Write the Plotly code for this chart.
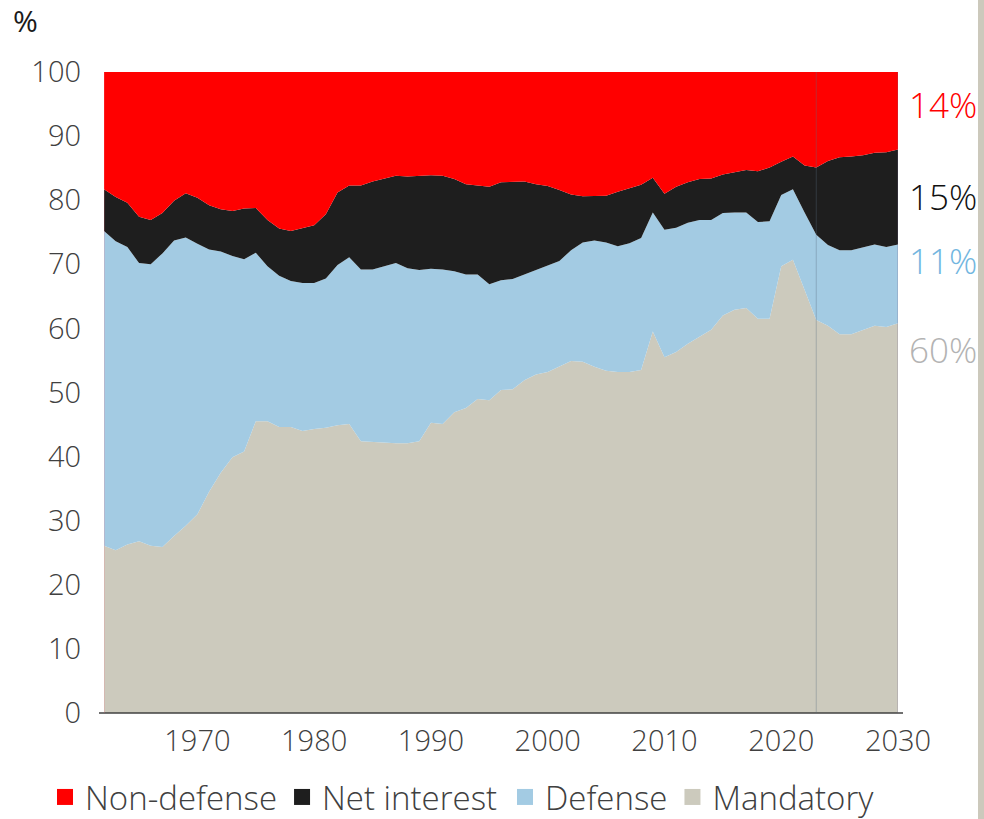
import plotly.graph_objects as go

years = list(range(1962, 2031))

mandatory = [26.1, 25.4, 26.3, 26.8, 26.1, 25.9, 27.6, 29.2, 31.0, 34.5,
             37.5, 39.9, 40.8, 45.5, 45.5, 44.6, 44.6, 44.0, 44.3, 44.5,
             44.9, 45.1, 42.4, 42.3, 42.1, 42.1, 42.1, 42.4, 45.3, 45.1,
             46.9, 47.6, 49.0, 48.8, 50.4, 50.5, 51.9, 52.8, 53.2, 54.0,
             54.9, 54.8, 54.0, 53.4, 53.2, 53.2, 53.5, 59.5, 55.5, 56.3,
             57.6, 58.7, 59.8, 62.0, 62.9, 63.2, 61.5, 61.5, 69.7, 70.7,
             66.0, 61.3, 60.4, 59.1, 59.1, 59.8, 60.4, 60.2, 60.8]

defense = [49.1, 48.2, 46.4, 43.4, 43.9, 45.8, 46.1, 45.0, 42.2, 37.8,
           34.5, 31.4, 30.0, 26.3, 24.2, 23.6, 22.8, 23.1, 22.8, 23.3,
           25.0, 26.0, 26.8, 26.9, 27.6, 28.1, 27.3, 26.7, 24.0, 24.1,
           22.0, 20.8, 19.4, 18.1, 17.1, 17.2, 16.5, 16.3, 16.5, 16.5,
           17.3, 18.6, 19.7, 20.0, 19.6, 20.1, 20.6, 18.6, 19.9, 19.4,
           18.9, 18.2, 17.1, 16.0, 15.2, 14.9, 15.1, 15.2, 11.1, 11.0,
           12.1, 13.3, 12.6, 13.1, 13.1, 12.8, 12.7, 12.5, 12.3]

net_interest = [6.5, 6.9, 6.9, 7.2, 6.9, 6.3, 6.2, 6.9, 7.2, 6.9,
                6.6, 7.0, 7.9, 7.0, 7.2, 7.4, 7.8, 8.5, 9.0, 10.0,
                11.3, 11.2, 13.1, 13.7, 13.7, 13.6, 14.3, 14.7, 14.6, 14.6,
                14.4, 14.1, 13.9, 15.2, 15.3, 15.1, 14.5, 13.4, 12.5, 11.1,
                8.7, 7.2, 7.0, 7.3, 8.5, 8.5, 8.3, 5.4, 5.6, 6.4,
                6.3, 6.4, 6.5, 6.0, 6.3, 6.6, 7.9, 8.4, 5.2, 5.1,
                7.3, 10.5, 13.1, 14.5, 14.6, 14.4, 14.3, 14.8, 14.8]

non_defense = [18.3, 19.5, 20.4, 22.6, 23.1, 22.0, 20.1, 18.9, 19.6, 20.8,
               21.4, 21.7, 21.3, 21.2, 23.1, 24.4, 24.8, 24.4, 23.9, 22.2,
               18.8, 17.7, 17.7, 17.1, 16.6, 16.2, 16.3, 16.2, 16.1, 16.2,
               16.7, 17.5, 17.7, 17.9, 17.2, 17.2, 17.1, 17.5, 17.8, 18.4,
               19.1, 19.4, 19.3, 19.3, 18.7, 18.2, 17.6, 16.5, 19.0, 17.9,
               17.2, 16.7, 16.6, 16.0, 15.6, 15.3, 15.5, 14.9, 14.0, 13.2,
               14.6, 14.9, 13.9, 13.3, 13.2, 13.0, 12.6, 12.5, 12.1]

tick_years = [1970, 1980, 1990, 2000, 2010, 2020, 2030]
y_ticks = list(range(0, 101, 10))
end_labels = ["14%", "15%", "11%", "60%"]
projection_start = 2023

series = [
    ("Mandatory", mandatory, "#CCCABD"),
    ("Defense", defense, "#A3CBE3"),
    ("Net interest", net_interest, "#1E1E1E"),
    ("Non-defense", non_defense, "#FF0000"),
]

FONT = "Open Sans"
TXT = "#404040"

fig = go.Figure()
for name, vals, col in series:
    fig.add_trace(go.Scatter(
        x=years, y=vals, name=name, stackgroup="one", mode="lines",
        line=dict(width=0, color=col), fillcolor=col, showlegend=False,
        hoverinfo="x+y+name"))

# legend entries (square swatches), split across two side-by-side legends
legend_of = {"Non-defense": "legend", "Net interest": "legend",
             "Defense": "legend2", "Mandatory": "legend2"}
for name, vals, col in reversed(series):
    fig.add_trace(go.Scatter(
        x=[None], y=[None], name=name, mode="markers", legend=legend_of[name],
        marker=dict(symbol="square", size=16, color=col), showlegend=True))

W, H = 984, 819
L, R, T, B = 104, 898, 72, 713
pw, ph = R - L, B - T


def px(xp):
    return (xp - L) / pw


def py(yp):
    return (B - yp) / ph


shapes = [
    # bottom axis line
    dict(type="line", xref="paper", yref="paper", x0=px(99), x1=px(903), y0=0, y1=0,
         line=dict(color="#404040", width=1.5)),
    # projection divider
    dict(type="line", xref="x", yref="paper", x0=projection_start, x1=projection_start,
         y0=0, y1=1, line=dict(color="rgba(90,110,130,0.35)", width=1)),
    # right edge
    dict(type="line", xref="x", yref="paper", x0=2030, x1=2030, y0=0, y1=1,
         line=dict(color="rgba(110,100,140,0.45)", width=1)),
    # left edge
    dict(type="line", xref="x", yref="paper", x0=1962, x1=1962, y0=0, y1=1,
         line=dict(color="rgba(240,120,140,0.45)", width=1)),
    # page strip at right
    dict(type="rect", xref="paper", yref="paper", x0=px(978), x1=px(990),
         y0=py(830), y1=py(-10), fillcolor="#CCC9BC", line=dict(width=0), layer="below"),
]

label_cols = ["#FF0000", "#111111", "#72B6E0", "#B3B3B3"]
label_y = [104, 196, 260.5, 349.5]
annotations = [
    dict(text="%", xref="paper", yref="paper", x=px(11), y=py(21), xanchor="left",
         yanchor="middle", showarrow=False,
         font=dict(family=FONT, size=30, color="#1A1A1A", weight=400)),
]
for t, c, yy in zip(end_labels, label_cols, label_y):
    annotations.append(dict(text=t, xref="paper", yref="paper", x=px(907), y=py(yy),
                            xanchor="left", yanchor="middle", showarrow=False,
                            font=dict(family=FONT, size=35, color=c, weight=300)))

legend_common = dict(orientation="h", xanchor="left", yref="container",
                     y=(H - 797) / H, yanchor="middle", xref="container",
                     font=dict(family=FONT, size=33, color=TXT, weight=300), itemwidth=30,
                     traceorder="normal", bgcolor="rgba(0,0,0,0)")

fig.update_layout(
    width=W, height=H,
    margin=dict(l=L, r=W - R, t=T, b=H - B, pad=0, autoexpand=False),
    paper_bgcolor="white", plot_bgcolor="white",
    font=dict(family=FONT, color=TXT),
    xaxis=dict(range=[1962, 2030], tickmode="array", tickvals=tick_years,
               ticktext=[str(y) for y in tick_years], showgrid=False, zeroline=False,
               showline=False, ticks="", ticklabelstandoff=8, automargin=False,
               tickfont=dict(family=FONT, size=29, color=TXT, weight=300), fixedrange=True),
    yaxis=dict(range=[0, 100], tickmode="array", tickvals=y_ticks, showgrid=False,
               zeroline=False, showline=False, ticks="", ticklabelstandoff=22,
               automargin=False,
               tickfont=dict(family=FONT, size=29, color=TXT, weight=300), fixedrange=True),
    legend=dict(x=45 / W, **legend_common),
    legend2=dict(x=505 / W, **legend_common),
    shapes=shapes, annotations=annotations, showlegend=True,
)

fig.write_html("out.html", config={"displayModeBar": False},
               post_script="document.body.style.margin='0';document.body.style.overflow='hidden';")
